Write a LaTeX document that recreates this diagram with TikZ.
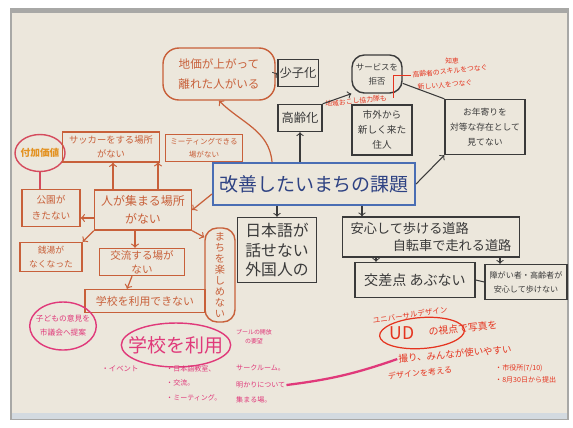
\documentclass[tikz,border=0pt]{standalone}
\usepackage{fontspec}
\setmainfont{Noto Sans CJK JP}
\usetikzlibrary{positioning,shapes.geometric}
\definecolor{paper}{HTML}{ECE7DC}
\definecolor{frame}{HTML}{A8A8A6}
\definecolor{strip}{HTML}{D3DAE0}
\definecolor{ink}{HTML}{3A3A3A}
\definecolor{orangepen}{HTML}{C8603A}
\definecolor{yellowpen}{HTML}{E39222}
\definecolor{bluepen}{HTML}{4A6EB4}
\definecolor{bluetext}{HTML}{2E4283}
\definecolor{pinkpen}{HTML}{E0397A}
\definecolor{redpen}{HTML}{E5341F}
\newcommand{\hw}[2]{\fontsize{#1}{#2}\selectfont}

\tikzset{
  kbox/.style={draw=ink, line width=0.8pt, text=ink, align=center, inner sep=1pt},
  kround/.style={kbox, rounded corners=7pt},
  obox/.style={draw=orangepen, line width=0.8pt, text=orangepen, align=center, inner sep=1pt},
  oround/.style={obox, rounded corners=9pt},
  oring/.style={ellipse, draw=pinkpen!55!orangepen, line width=0.8pt, inner sep=0pt},
  pring/.style={ellipse, draw=pinkpen, line width=0.8pt, text=pinkpen, align=center},
  bbox/.style={draw=bluepen, line width=1.2pt, text=bluetext, inner sep=1pt},
  pnote/.style={text=pinkpen, inner sep=0.5pt, align=center},
  rnote/.style={text=redpen, inner sep=0.5pt, align=center},
  karrow/.style={->, draw=ink, line width=0.6pt},
  oarrow/.style={->, draw=orangepen, line width=0.7pt},
}

\begin{document}
\begin{tikzpicture}[x=0.02cm, y=-0.02cm]
            %Paper
            \useasboundingbox (0,0) rectangle (573,427);
            \fill[white] (0,0) rectangle (573,427);
            \fill[frame] (10,8) rectangle (569,420);
            \fill[paper] (12,13) rectangle (567,413);
            \fill[strip] (12,413) rectangle (567,419);

            %Nodes
            \node[bbox, minimum width=4.04cm, minimum height=0.84cm, font=\hw{10.8}{13}] at (314,184) (kadai) {改善したいまちの課題};

            \node[oround, minimum width=2.24cm, minimum height=1.04cm, font=\hw{6.6}{11}] at (219,74) (chika) {地価が上がって\\離れた人がいる};
            \node[kbox, minimum width=0.8cm, minimum height=0.54cm, font=\hw{7}{8}] at (298,73) (shoushi) {少子化};
            \node[kround, minimum width=1.0cm, minimum height=0.76cm, font=\hw{4.8}{8}] at (377,74) (service) {サービスを\\拒否};
            \node[kbox, minimum width=0.88cm, minimum height=0.54cm, font=\hw{7}{8}] at (300,118) (koureika) {高齢化};
            \node[kbox, minimum width=1.2cm, minimum height=1.0cm, font=\hw{5.5}{8.5}] at (382,130) (shigai) {市外から\\新しく来た\\住人};
            \node[kbox, minimum width=1.6cm, minimum height=1.1cm, font=\hw{5}{8.5}] at (485,127) (otoshiyori) {お年寄りを\\対等な存在として\\見てない};

            \node[rnote, font=\hw{3.8}{5}] at (452,61) (chie) {知恵};
            \node[rnote, rotate=6, font=\hw{3.9}{5}] at (450,71) (skill) {高齢者のスキルをつなぐ};
            \node[rnote, rotate=5, font=\hw{3.9}{5}] at (445,85) (atarashii) {新しい人をつなぐ};
            \node[rnote, rotate=6, font=\hw{3.9}{5}] at (356,101) (okoshi) {地域おこし協力隊も};

            \node[kbox, minimum width=1.58cm, minimum height=1.3cm, font=\hw{9}{11}] at (277,250) (gaikoku) {日本語が\\話せない\\外国人の};
            \node[kbox, minimum width=3.54cm, minimum height=0.8cm, align=left, font=\hw{7.5}{10}] at (431,237) (anshin) {安心して歩ける道路\\\hspace{3.2em}自転車で走れる道路};
            \node[kbox, minimum width=2.4cm, minimum height=0.7cm, font=\hw{8}{9}] at (415,280) (kousaten) {交差点 あぶない};
            \node[kbox, minimum width=1.64cm, minimum height=0.7cm, font=\hw{4.6}{8}] at (526,282) (shougai) {障がい者・高齢者が\\安心して歩けない};

            \node[oring, minimum width=1.0cm, minimum height=0.74cm, inner xsep=-1pt, text=yellowpen, font=\hw{5.5}{6}\bfseries] at (40,153) (fuka) {付加価値};
            \node[obox, minimum width=1.94cm, minimum height=0.6cm, font=\hw{5.3}{8}] at (111,147) (soccer) {サッカーをする場所\\がない};
            \node[obox, minimum width=1.54cm, minimum height=0.54cm, font=\hw{4.3}{7}] at (204,148) (meeting) {ミーティングできる\\場がない};
            \node[obox, minimum width=1.94cm, minimum height=0.8cm, font=\hw{6.8}{10}] at (143,210) (atsumaru) {人が集まる場所\\がない};
            \node[obox, minimum width=1.16cm, minimum height=0.74cm, font=\hw{5.5}{9}] at (51,208) (kouen) {公園が\\きたない};
            \node[obox, minimum width=1.24cm, minimum height=0.58cm, font=\hw{5}{8}] at (51,257) (sentou) {銭湯が\\なくなった};
            \node[obox, minimum width=1.7cm, minimum height=0.54cm, font=\hw{6}{8}] at (142,262) (kouryu) {交流する場が\\ない};
            \node[obox, minimum width=2.4cm, minimum height=0.46cm, font=\hw{6.2}{7}] at (145,301) (gakkou) {学校を利用できない};
            \node[oround, rounded corners=7pt, minimum width=0.6cm, minimum height=1.88cm, font=\hw{5.8}{6.3}] at (220,275) (machi) {ま\\ち\\を\\楽\\し\\め\\な\\い};

            \node[pring, minimum width=1.32cm, minimum height=0.96cm, inner xsep=-2pt, font=\hw{4.4}{8}] at (63,326) (kodomo) {子どもの意見を\\市議会へ提案};
            \node[pring, minimum height=0.88cm, inner xsep=-5pt, font=\hw{10.8}{13}] at (176,345) (riyou) {学校を利用};
            \node[pnote, font=\hw{3.4}{5}] at (254,337) (pool) {プールの開放\\の要望};
            \node[pnote, font=\hw{4.2}{5}] at (120,369) (event) {・イベント};
            \node[pnote, anchor=west, font=\hw{4}{5}] at (165,369) (nihongo) {・日本語教室、};
            \node[pnote, anchor=west, font=\hw{4}{5}] at (165,383) (kouryu2) {・交流。};
            \node[pnote, anchor=west, font=\hw{4}{5}] at (165,398) (meeting2) {・ミーティング。};
            \node[pnote, anchor=west, font=\hw{4}{5}] at (235,368) (circle) {サークルーム。};
            \node[pnote, anchor=west, font=\hw{4}{5}] at (235,385) (akari) {明かりについて};
            \node[pnote, anchor=west, font=\hw{4}{5}] at (235,400) (atsumaru2) {集まる場。};

            \node[rnote, rotate=8, font=\hw{4.3}{5}] at (410,315) (universal) {ユニバーサルデザイン};
            \node[ellipse, draw=redpen, line width=0.7pt, minimum width=1.7cm, minimum height=0.62cm, rotate=4] at (422,333) (udring) {};
            \node[rnote, font=\hw{10}{12}] at (402,333) (ud) {UD};
            \node[rnote, rotate=6, font=\hw{5.6}{7}] at (463,328) (shiten) {の視点で写真を};
            \node[rnote, rotate=5, font=\hw{5.4}{7}] at (455,354) (toru) {撮り、みんなが使いやすい};
            \node[rnote, rotate=6, font=\hw{4.6}{6}] at (420,373) (design) {デザインを考える};
            \node[rnote, anchor=west, font=\hw{4}{5}] at (494,368) (shiyakusho) {・市役所(7/10)};
            \node[rnote, anchor=west, font=\hw{4}{5}] at (494,380) (teishutsu) {・8月30日から提出};

            %Lines
            \draw[karrow] (chika.east) -- (shoushi.west);
            \draw[karrow] (koureika.north east) -- (service.south west);
            \draw[karrow] (kadai.north -| koureika.south) -- (koureika.south);
            \draw[ink, line width=0.6pt] (service.-20) -- (otoshiyori.north west);
            \draw[karrow] (kadai.east) -- (otoshiyori.south west);
            \draw[redpen, line width=0.6pt] ([xshift=3pt]okoshi.east) |- (skill.west);
            \draw[karrow] (kadai.south -| gaikoku.north) -- (gaikoku.north);
            \draw[karrow] ([xshift=0.96cm]kadai.south) -- ([xshift=0.96cm]kadai.south |- anshin.north);
            \draw[karrow] ([xshift=-0.78cm]kousaten.north |- anshin.south) -- ([xshift=-0.78cm]kousaten.north);
            \draw[karrow] ([xshift=-0.52cm]shougai.north |- anshin.south) -- ([xshift=-0.52cm]shougai.north);
            \draw[ink, line width=0.6pt] (kousaten.east) -- (shougai.west);

            \draw[oarrow] ([xshift=-0.84cm]kadai.north) to[out=95, in=-45] (chika.south);
            \draw[oarrow] ([yshift=-0.2cm]kadai.west) -- (atsumaru.east);
            \draw[oarrow] ([xshift=-0.6cm]atsumaru.north) -- ([xshift=-0.6cm]atsumaru.north |- soccer.south);
            \draw[oarrow] ([xshift=0.3cm]atsumaru.north) -- ([xshift=0.3cm]atsumaru.north |- meeting.south);
            \draw[oarrow] ([yshift=-0.16cm]atsumaru.west) -- ([yshift=-0.16cm]atsumaru.west -| kouen.east);
            \draw[oarrow] (atsumaru.south west) -- (sentou.north east);
            \draw[oarrow] ([xshift=-0.16cm]atsumaru.south) -- ([xshift=-0.16cm]atsumaru.south |- kouryu.north);
            \draw[oarrow] ([xshift=-0.2cm]kouryu.south) -- ([xshift=-0.36cm]gakkou.north);
            \draw[oarrow] (atsumaru.south east) -- ([yshift=-0.2cm]machi.north west);
            \draw[pinkpen!55!orangepen, line width=0.7pt] (fuka.south) -- (fuka.south |- kouen.north);

            \draw[pinkpen, line width=1.3pt] (akari.east) to[bend right=6] (toru.west);
        \end{tikzpicture}
\end{document}
